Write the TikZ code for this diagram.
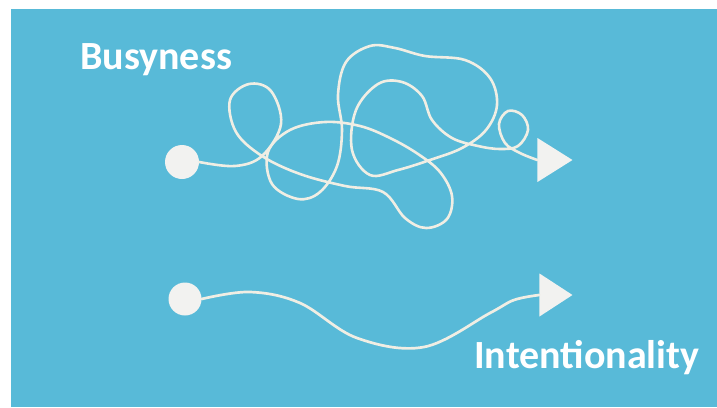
\documentclass[tikz,border=0pt]{standalone}
\usepackage{fontspec}
\setmainfont{Carlito}
\usetikzlibrary{shapes.geometric}
\definecolor{bgblue}{RGB}{88,186,216}
\definecolor{paper}{RGB}{242,242,240}
\definecolor{yarn}{RGB}{240,238,228}
\tikzset{
  disc/.style={circle, fill=paper, draw=none, minimum size=34pt, inner sep=0pt},
  tip/.style={isosceles triangle, isosceles triangle stretches=true, fill=paper, draw=none,
              minimum width=44pt, minimum height=35pt, inner sep=0pt, anchor=apex},
  string/.style={draw=yarn, line width=2.6pt, line cap=round, line join=round},
  label/.style={text=white, font=\bfseries\fontsize{40}{42}\selectfont, inner sep=0pt, anchor=base west}
}
\begin{document}
\begin{tikzpicture}[x=1pt,y=-1pt]
\useasboundingbox (0,0) rectangle (717,407);
\fill[white] (0,0) rectangle (717,407);
\fill[bgblue] (11,9) rectangle (717,407);

\node[label] (busy) at (80,69) {Busyness};
\node[label] (intent) at (474,368) {Intentionality};

\node[disc] (c1) at (182,162) {};
\node[disc, minimum size=33pt] (c2) at (185,299) {};
\node[tip] (t1) at (573,160) {};
\node[tip, minimum width=43pt, minimum height=33pt] (t2) at (573,295) {};

\draw[string] plot[smooth, tension=0.6] coordinates {
  (c1.east) (235,166) (262,156) (281,124) (271,91) (249,84) (230,100) (236,132)
  (262,156) (300,174) (345,186) (383,192) (405,218) (426,228) (447,219) (452,196)
  (440,172) (418,154) (390,138) (360,126) (325,122) (290,130) (268,152) (272,184)
  (298,199) (320,192) (337,166) (342,130) (338,95) (346,62) (370,46) (395,48)
  (425,56) (465,60) (490,78) (497,105) (486,130) (462,148) (430,160) (398,170)
  (370,175) (352,150) (356,110) (378,84) (402,82) (422,96) (432,120) (452,138)
  (478,146) (500,149) (518,146) (528,130) (522,115) (508,111) (499,124) (505,143)
  (520,153) (t1.west)};

\draw[string, line width=2.7pt] plot[smooth, tension=0.6] coordinates {
  (c2.east) (250,292) (300,303) (357,338) (424,347) (490,313) (514,300) (t2.west)};
\end{tikzpicture}
\end{document}
